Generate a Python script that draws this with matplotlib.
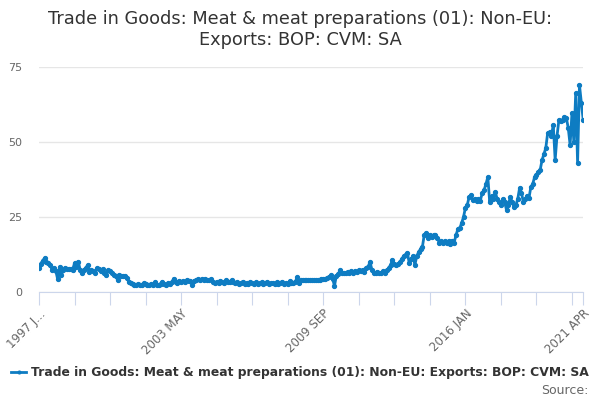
import numpy as np
import matplotlib
matplotlib.use('Agg')
import matplotlib.pyplot as plt

# monthly values, 1997 JAN .. 2021 APR
y1997 = [8.1, 9.5, 10.5, 11.3, 10, 9.6, 9, 7.3, 8, 7, 4.2, 8.4]
y1998 = [5.7, 7.5, 8, 7.8, 7.6, 7.8, 7.5, 9.6, 8.2, 10, 7.5, 6.3]
y1999 = [7.5, 8, 9, 6.7, 7.2, 7, 6.3, 8, 7.8, 7, 7.6, 6.5]
y2000 = [5.7, 7.3, 7, 6.5, 5.8, 5.5, 4, 5.7, 5.4, 5.5, 5.3, 4.8]
y2001 = [3.3, 3, 2.7, 2.5, 2.4, 2.6, 2.3, 2.5, 3, 2.6, 2.4, 2.5]
y2002 = [2.6, 2.4, 3.2, 2.5, 2.4, 2.8, 3.5, 2.6, 2.5, 3, 2.7, 3.2]
y2003 = [4.5, 3.3, 3, 3.8, 3.5, 3.7, 3.2, 4, 3.6, 3.8, 2.2, 3.8]
y2004 = [4, 4.2, 4.1, 4.2, 4, 4.2, 4.1, 4, 4.2, 3.2, 3, 3.4]
y2005 = [3, 3.8, 3.4, 3, 3.9, 3.2, 3.5, 4, 3.2, 3, 3.3, 2.8]
y2006 = [3, 3.5, 2.8, 3, 2.7, 3.4, 3, 2.8, 3.3, 2.7, 2.9, 3.2]
y2007 = [2.8, 3, 3.4, 2.7, 2.9, 3, 2.6, 3.2, 2.8, 3, 3.5, 2.7]
y2008 = [3, 2.8, 3.6, 3, 2.9, 3.2, 5, 3.1, 4, 4, 4, 4.1]
y2009 = [4, 4, 4.1, 4, 4, 4.1, 4, 4.2, 4.5, 4.3, 4.6, 5]
y2010 = [5.6, 4.5, 2, 5.5, 6, 7.3, 6.2, 6.5, 6.3, 6.8, 6.5, 7]
y2011 = [6.5, 7, 6.8, 7.2, 7, 7.5, 6.6, 8, 8.5, 10, 7.5, 6.5]
y2012 = [6.3, 6.8, 6.5, 6.2, 7, 6.5, 7.2, 8, 9, 10.7, 9.5, 9]
y2013 = [9.5, 10, 11, 12, 12.5, 13, 9.6, 11, 12, 9, 12, 13.3]
y2014 = [14.3, 15, 19, 19.7, 18, 19, 18.5, 19, 19, 18, 16.5, 17]
y2015 = [16.3, 17, 16.5, 17, 16, 17, 16.5, 19, 21, 21.3, 23, 25]
y2016 = [28, 29, 31.7, 32.3, 30.7, 31, 30.5, 31, 30.5, 33, 34, 36]
y2017 = [38.3, 30, 32, 31, 33.3, 31, 30, 29, 31, 30, 27.3, 29]
y2018 = [31.7, 30, 28.3, 29, 31, 34.7, 33, 30, 31, 32, 31.3, 35]
y2019 = [36, 38.3, 39, 40, 40.7, 44, 46, 48, 53, 53.3, 52, 55.7]
y2020 = [44, 52, 57.3, 57, 57.5, 58.3, 58, 54.7, 49, 59.7, 50, 66.3]
y2021 = [43, 69, 63, 57.3]

values = (y1997 + y1998 + y1999 + y2000 + y2001 + y2002 + y2003 + y2004 +
          y2005 + y2006 + y2007 + y2008 + y2009 + y2010 + y2011 + y2012 +
          y2013 + y2014 + y2015 + y2016 + y2017 + y2018 + y2019 + y2020 + y2021)

months = ['JAN', 'FEB', 'MAR', 'APR', 'MAY', 'JUN',
          'JUL', 'AUG', 'SEP', 'OCT', 'NOV', 'DEC']
dates = ['%d %s' % (1997 + k // 12, months[k % 12]) for k in range(len(values))]

tick_pos = list(range(0, len(values), 19)) + [len(values) - 1]
tick_pos = sorted(set(tick_pos))
label_every = 4
tick_lab = []
for n, p in enumerate(tick_pos):
    if p == len(values) - 1:
        tick_lab.append(dates[p])
    elif n % label_every == 0:
        tick_lab.append(dates[p] if p else '1997 J...')
    else:
        tick_lab.append('')

name = 'Trade in Goods: Meat & meat preparations (01): Non-EU: Exports: BOP: CVM: SA'
blue = '#0e7cc2'

fig = plt.figure(figsize=(6, 4), dpi=100)
ax = fig.add_axes([0.065, 0.27, 0.907, 0.5625])

x = np.arange(len(values))
ax.plot(x, values, color=blue, lw=2, marker='o', ms=2.8, label=name)

ax.set_xlim(0, len(values) - 1)
ax.set_ylim(0, 75)
ax.set_yticks([0, 25, 50, 75])
ax.grid(axis='y', color='#e6e6e6', lw=1)
ax.set_axisbelow(True)
for s in ['top', 'right', 'left']:
    ax.spines[s].set_visible(False)
ax.spines['bottom'].set_color('#ccd6eb')
ax.tick_params(axis='y', length=0, labelsize=8, labelcolor='#666666', pad=12)
ax.set_xticks(tick_pos)
ax.set_xticklabels(tick_lab, rotation=45, ha='right', rotation_mode='anchor')
ax.tick_params(axis='x', length=9, color='#ccd6eb', labelsize=8.5,
               labelcolor='#666666', pad=2)

fig.suptitle('Trade in Goods: Meat & meat preparations (01): Non-EU:\nExports: BOP: CVM: SA',
             x=0.5, y=0.975, fontsize=12.8, color='#333333', linespacing=1.2)

leg = fig.legend(loc='lower center', bbox_to_anchor=(0.5, 0.025), frameon=False,
                 handlelength=1.2, handletextpad=0.4, markerscale=0.7,
                 prop={'size': 8.9, 'weight': 'bold'})
for t in leg.get_texts():
    t.set_color('#333333')
fig.text(0.98, 0.008, 'Source:', ha='right', va='bottom', fontsize=9, color='#666666')

plt.savefig('out.png', dpi=100)
